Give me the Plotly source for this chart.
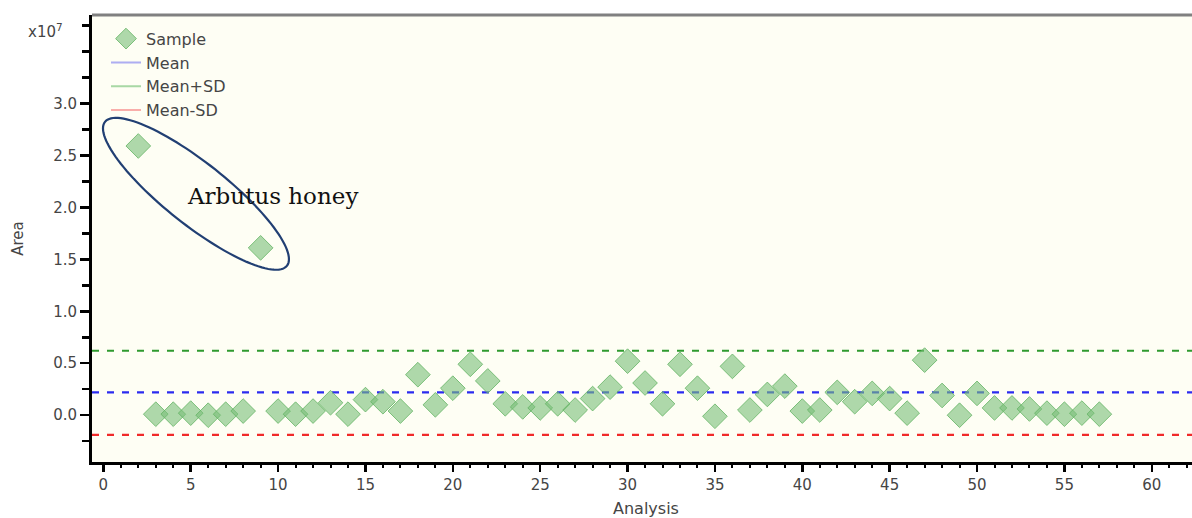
import numpy as np
import plotly.graph_objects as go

# ---- data (Area in units of 1e7) ----
analysis = list(range(2, 58))
area = [2.59, 0.01, 0.01, 0.02, 0.00, 0.01, 0.04, 1.61, 0.04, 0.01,
        0.04, 0.12, 0.01, 0.15, 0.13, 0.04, 0.39, 0.10, 0.26, 0.49,
        0.33, 0.11, 0.08, 0.07, 0.11, 0.05, 0.16, 0.27, 0.52, 0.31,
        0.11, 0.49, 0.26, -0.01, 0.47, 0.05, 0.20, 0.28, 0.04, 0.05,
        0.22, 0.13, 0.21, 0.16, 0.02, 0.53, 0.19, 0.00, 0.21, 0.07,
        0.07, 0.06, 0.02, 0.01, 0.02, 0.01]
mean_val = 0.22
mean_plus_sd = 0.62
mean_minus_sd = -0.19

x_range = [-0.65, 62.76]
y_range = [-0.45, 3.85]
y_major = [0.0, 0.5, 1.0, 1.5, 2.0, 2.5, 3.0]
y_major_labels = ["0.0", "0.5", "1.0", "1.5", "2.0", "2.5", "3.0"]

# figure is a little wider than the 1192px window so the plot runs off the right edge
W, H = 1200, 518
ML, MR, MT, MB = 92, 0, 15, 56
pw, ph = W - ML - MR, H - MT - MB
px_per_x = pw / (x_range[1] - x_range[0])
px_per_y = ph / (y_range[1] - y_range[0])

SANS = "DejaVu Sans"
TXT = "#454545"

fig = go.Figure()

line_specs = [
    ("Mean", mean_val, "#2b2bef", "rgba(120,120,240,0.6)"),
    ("Mean+SD", mean_plus_sd, "#2f9a2f", "rgba(110,190,110,0.6)"),
    ("Mean-SD", mean_minus_sd, "#f02a2a", "rgba(245,120,120,0.6)"),
]

for name, val, col, lcol in line_specs:
    fig.add_trace(go.Scatter(x=x_range, y=[val, val], mode="lines",
                             line=dict(color=col, width=2.2, dash="7px,8px"),
                             showlegend=False, hoverinfo="skip"))

fig.add_trace(go.Scatter(
    x=analysis, y=area, mode="markers", name="Sample",
    marker=dict(symbol="diamond", size=19, color="rgba(120,190,120,0.6)",
                line=dict(color="rgba(100,180,100,0.8)", width=1))))

for name, val, col, lcol in line_specs:
    fig.add_trace(go.Scatter(x=[None], y=[None], mode="lines", name=name,
                             line=dict(color=lcol, width=2)))

# ellipse annotation (screen-space rotated ellipse around the Arbutus honey samples)
cx, cy = 5.30, 2.13
a_px, b_px, theta = 116, 31, np.deg2rad(38.35)
t = np.linspace(0, 2 * np.pi, 121)
ex_px = a_px * np.cos(t) * np.cos(theta) - b_px * np.sin(t) * np.sin(theta)
ey_px = a_px * np.cos(t) * np.sin(theta) + b_px * np.sin(t) * np.cos(theta)
ex = cx + ex_px / px_per_x
ey = cy - ey_px / px_per_y
path = "M " + " L ".join(f"{x:.4f},{y:.4f}" for x, y in zip(ex, ey)) + " Z"
fig.add_shape(type="path", path=path, xref="x", yref="y",
              line=dict(color="#213f73", width=2.2))

fig.add_annotation(x=9.7, y=2.11, xref="x", yref="y", text="Arbutus honey",
                   showarrow=False, font=dict(family="DejaVu Serif", size=23, color="#111"))

fig.add_annotation(x=-27 / pw, y=(H - MB - 31) / ph, xref="paper", yref="paper",
                   xanchor="right", yanchor="middle",
                   text="x10<sup>7</sup>", showarrow=False,
                   font=dict(family=SANS, size=15, color=TXT))

# top border
fig.add_shape(type="line", xref="paper", yref="paper", x0=0, x1=1, y0=1, y1=1,
              line=dict(color="#808080", width=3))

fig.update_layout(
    width=W, height=H,
    margin=dict(l=ML, r=MR, t=MT, b=MB, autoexpand=False),
    paper_bgcolor="white", plot_bgcolor="#fefef4",
    font=dict(family=SANS, size=15, color=TXT),
    hovermode=False,
    legend=dict(x=14 / pw, y=0.985, xanchor="left", yanchor="top",
                bgcolor="rgba(0,0,0,0)", font=dict(size=16, color=TXT),
                tracegroupgap=0),
    xaxis=dict(range=x_range, showgrid=False, zeroline=False, automargin=False,
               showline=True, mirror=False, linecolor="black", linewidth=2.5,
               tickmode="linear", tick0=0, dtick=5, ticks="outside", ticklen=7,
               tickwidth=2.5, tickcolor="black",
               tickfont=dict(size=15, color=TXT),
               minor=dict(dtick=1, tick0=0, ticks="outside", ticklen=3,
                          tickwidth=2, tickcolor="black", showgrid=False),
               title=dict(text="Analysis", font=dict(size=16, color=TXT), standoff=12)),
    yaxis=dict(range=y_range, showgrid=False, zeroline=False, automargin=False,
               showline=True, mirror=False, linecolor="black", linewidth=3,
               tickmode="array", tickvals=y_major, ticktext=y_major_labels,
               ticks="outside", ticklen=9, tickwidth=2.5, tickcolor="black",
               tickfont=dict(size=15, color=TXT),
               minor=dict(dtick=0.25, tick0=0, ticks="outside", ticklen=7,
                          tickwidth=2.5, tickcolor="black", showgrid=False),
               title=dict(text="Area", font=dict(size=15, color=TXT), standoff=26)),
)

fig.write_html(
    "out.html",
    config={"displayModeBar": False, "staticPlot": True},
    post_script="document.body.style.margin='0';"
                "document.documentElement.style.overflow='hidden';"
                "document.body.style.overflow='hidden';",
)
